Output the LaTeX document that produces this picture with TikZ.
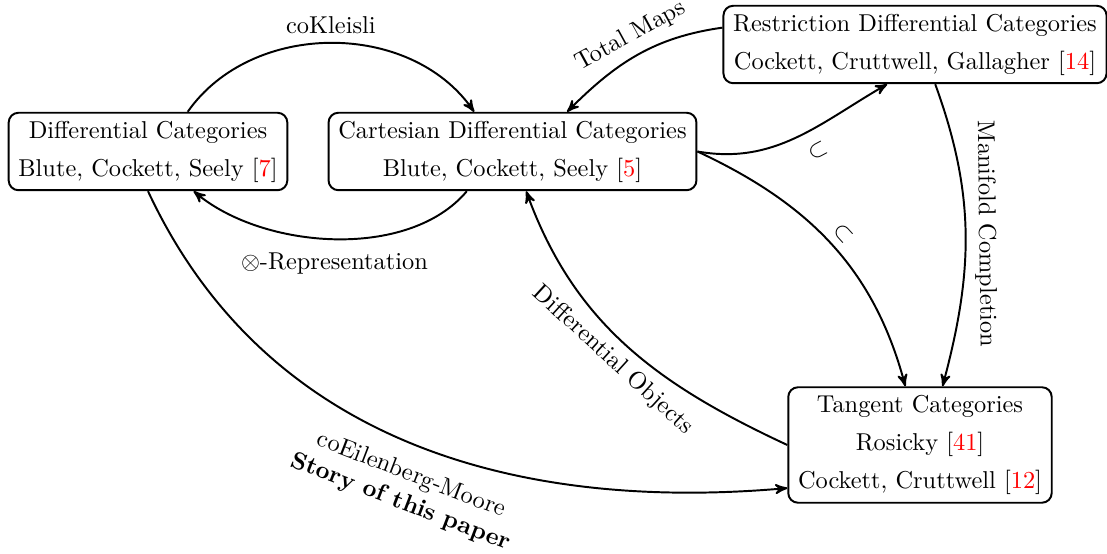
\documentclass[tikz,border=0pt]{standalone}
\usepackage[dvipsnames,rgb]{xcolor}
\usepackage{tikz}
\usetikzlibrary{positioning,shapes,arrows}

\newcommand{\refno}[1]{[\textcolor{red}{#1}]}

\begin{document}
\begin{tikzpicture}[x=0.41pt, y=0.41pt, >=stealth', thick,
        cat/.style = {draw, rounded corners, align=center, inner xsep=4pt, inner ysep=3.3pt}]
        \useasboundingbox (0,0) rectangle (1107,554);

        \node(diff)[cat] at (148,402.5) {Differential Categories\\[3.6pt] Blute, Cockett, Seely \refno{7}};
        \node(cart)[cat] at (512.5,402.5) {Cartesian Differential Categories\\[3.6pt] Blute, Cockett, Seely \refno{5}};
        \node(restr)[cat] at (915,509.5) {Restriction Differential Categories\\[3.6pt] Cockett, Cruttwell, Gallagher \refno{14}};
        \node(tang)[cat] at (920,109) {Tangent Categories\\[3.6pt] Rosicky \refno{41}\\[3.6pt] Cockett, Cruttwell \refno{12}};

        % between differential and cartesian
        \draw[->] (diff.45) to[out=55, in=125] node[above]{coKleisli} (cart.134);
        \draw[->] (cart.221) to[out=230, in=-40, looseness=0.85] node[below=2pt]{$\otimes$-Representation} (diff.319);

        % restriction and tangent
        \draw[<-] (cart.36) to[out=45, in=188] node[sloped, above=0pt, pos=0.52]{Total Maps} (restr.175);
        \draw[->] (cart.east) to[out=-10, in=210] node[sloped, below=2pt, pos=0.57]{$\subset$} (restr.235);
        \draw[->] (cart.east) to[out=-25, in=105] node[sloped, above]{$\subset$} (tang.104);
        \draw[->] (restr.297) to[out=-70, in=75] node[sloped, above]{Manifold Completion} (tang.69);
        \draw[<-] (cart.289) to[out=-70, in=155] node[sloped, below]{Differential Objects} (tang.west);

        % the long one
        \draw[->] (diff.south) to[out=-65, in=185] node[sloped, below=4pt, pos=0.52, align=center]{coEilenberg-Moore\\ \textbf{Story of this paper}} (tang.198);
    \end{tikzpicture}
\end{document}
